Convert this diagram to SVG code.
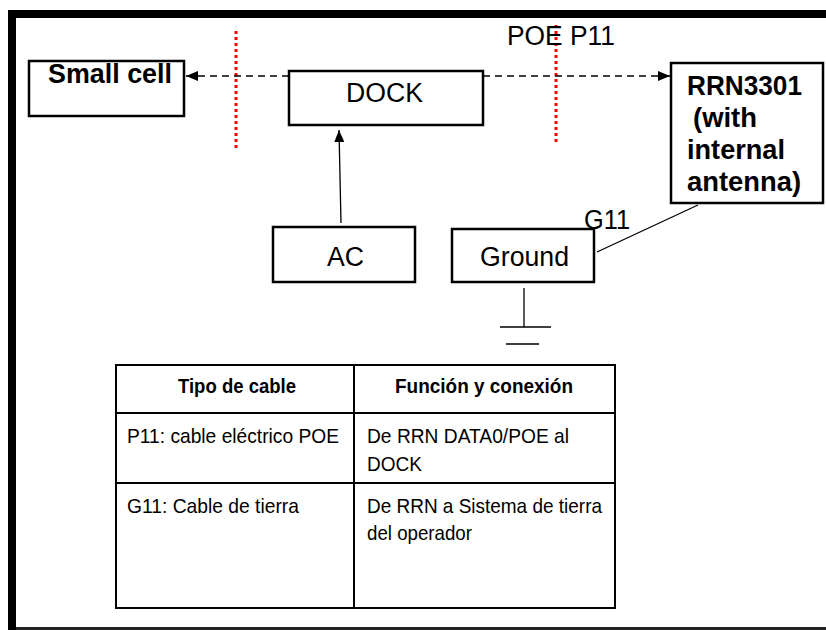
<svg xmlns="http://www.w3.org/2000/svg" width="826" height="630" viewBox="0 0 826 630">
<defs>
<style>
.box{fill:#fff;stroke:#000;stroke-width:2.5}
.t{font-family:"Liberation Sans",Arial,sans-serif;fill:#000}
.b{font-weight:bold}
.red{stroke:#f00;stroke-width:3;stroke-dasharray:3 3}
.dash{stroke:#000;stroke-width:1.5;stroke-dasharray:7 5;fill:none}
.ln{stroke:#000;stroke-width:1.3;fill:none}
.grid{stroke:#000;stroke-width:2;fill:none}
</style>
<marker id="ah" viewBox="0 0 12 10" refX="12" refY="5" markerWidth="12" markerHeight="10" markerUnits="userSpaceOnUse" orient="auto">
<path d="M0,0 L12,5 L0,10 z" fill="#000"/>
</marker>
</defs>
<rect x="0" y="0" width="826" height="630" fill="#fff"/>
<g id="frame">
<rect x="8" y="10" width="818" height="8" fill="#000"/>
<rect x="8" y="10" width="8" height="620" fill="#000"/>
<rect x="16" y="627" width="810" height="3" fill="#222"/>
</g>
<g id="separators">
<line class="red" x1="236" y1="31" x2="236" y2="150"/>
<line class="red" x1="556" y1="25" x2="556" y2="144"/>
</g>
<g id="connectors">
<line class="dash" x1="289" y1="76" x2="186" y2="76" marker-end="url(#ah)"/>
<line class="dash" x1="483" y1="76" x2="670" y2="76" marker-end="url(#ah)"/>
<line class="ln" x1="341" y1="223" x2="339" y2="130" marker-end="url(#ah)"/>
<line class="ln" x1="597" y1="252" x2="698" y2="205"/>
<text class="t" x="584" y="229" font-size="27" textLength="46" lengthAdjust="spacingAndGlyphs">G11</text>
<text class="t" x="507" y="45" font-size="27" textLength="108" lengthAdjust="spacingAndGlyphs">POE P11</text>
</g>
<g id="smallcell">
<rect class="box" x="29" y="61" width="155" height="55"/>
<text class="t b" x="48" y="83" font-size="27" textLength="124" lengthAdjust="spacingAndGlyphs">Small cell</text>
</g>
<g id="dock">
<rect class="box" x="289" y="71" width="194" height="54"/>
<text class="t" x="346" y="102" font-size="27" textLength="77" lengthAdjust="spacingAndGlyphs">DOCK</text>
</g>
<g id="rrn">
<rect class="box" x="671" y="63" width="152" height="140"/>
<text class="t b" font-size="27"><tspan x="687" y="95" textLength="115" lengthAdjust="spacingAndGlyphs">RRN3301</tspan><tspan x="693" y="127" textLength="64" lengthAdjust="spacingAndGlyphs">(with</tspan><tspan x="687" y="159" textLength="98" lengthAdjust="spacingAndGlyphs">internal</tspan><tspan x="687" y="191" textLength="114" lengthAdjust="spacingAndGlyphs">antenna)</tspan></text>
</g>
<g id="ac">
<rect class="box" x="273" y="227" width="142" height="55"/>
<text class="t" x="327" y="266" font-size="27" textLength="37" lengthAdjust="spacingAndGlyphs">AC</text>
</g>
<g id="ground">
<rect class="box" x="452" y="229" width="142" height="53"/>
<text class="t" x="480" y="266" font-size="27" textLength="89" lengthAdjust="spacingAndGlyphs">Ground</text>
</g>
<g id="earth">
<line class="ln" x1="524" y1="288" x2="524" y2="327"/>
<line class="ln" x1="500" y1="327" x2="551" y2="327"/>
<line class="ln" x1="506" y1="344" x2="539" y2="344"/>
</g>
<g id="table">
<rect class="grid" x="116" y="365" width="499" height="243"/>
<line class="grid" x1="354" y1="365" x2="354" y2="608"/>
<line class="grid" x1="116" y1="413" x2="615" y2="413"/>
<line class="grid" x1="116" y1="483" x2="615" y2="483"/>
<text class="t b" x="178" y="393" font-size="21" textLength="118" lengthAdjust="spacingAndGlyphs">Tipo de cable</text>
<text class="t b" x="395" y="393" font-size="21" textLength="178" lengthAdjust="spacingAndGlyphs">Función y conexión</text>
<text class="t" x="127" y="443" font-size="21" textLength="212" lengthAdjust="spacingAndGlyphs">P11: cable eléctrico POE</text>
<text class="t" font-size="21"><tspan x="367" y="443" textLength="202" lengthAdjust="spacingAndGlyphs">De RRN DATA0/POE al</tspan><tspan x="367" y="471" textLength="55" lengthAdjust="spacingAndGlyphs">DOCK</tspan></text>
<text class="t" x="127" y="513" font-size="21" textLength="172" lengthAdjust="spacingAndGlyphs">G11: Cable de tierra</text>
<text class="t" font-size="21"><tspan x="367" y="513" textLength="235" lengthAdjust="spacingAndGlyphs">De RRN a Sistema de tierra</tspan><tspan x="367" y="540" textLength="105" lengthAdjust="spacingAndGlyphs">del operador</tspan></text>
</g>
</svg>
